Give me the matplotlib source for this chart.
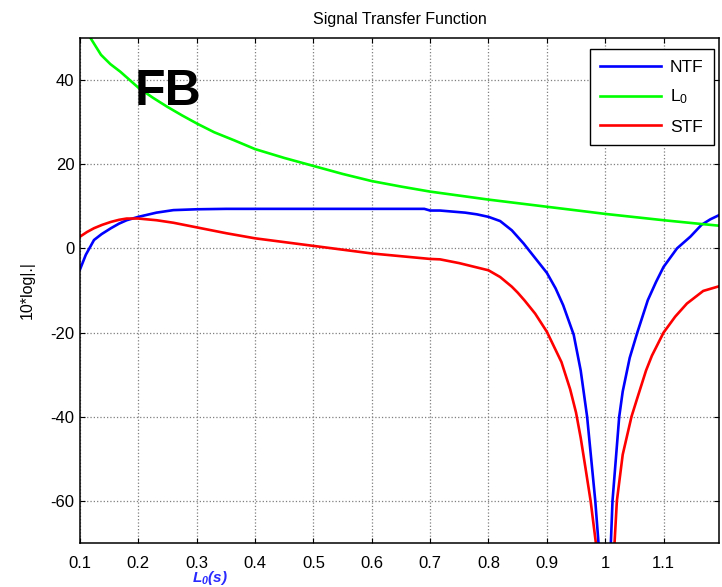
import numpy as np
import matplotlib.pyplot as plt

# values (x axis: normalised frequency)
l0_x = [0.1, 0.118, 0.136, 0.152, 0.169, 0.2, 0.225, 0.249, 0.275, 0.3, 0.33,
        0.364, 0.4, 0.45, 0.5, 0.55, 0.6, 0.65, 0.7, 0.8, 0.9, 0.965, 1.0,
        1.1, 1.165, 1.195]
l0_y = [54, 50, 46, 43.8, 42, 38.2, 35.8, 33.7, 31.6, 29.7, 27.6,
        25.7, 23.6, 21.5, 19.6, 17.7, 16.0, 14.7, 13.5, 11.6, 9.9, 8.8, 8.2,
        6.7, 5.8, 5.4]

ntf_x = [0.1, 0.11, 0.124, 0.137, 0.153, 0.167, 0.18, 0.2, 0.231, 0.26, 0.3,
         0.35, 0.5, 0.6, 0.69, 0.7, 0.717, 0.76, 0.78, 0.8, 0.82, 0.84,
         0.86, 0.88, 0.9, 0.915, 0.928, 0.946, 0.958, 0.969, 0.983,
         0.9885, 1.0, 1.0097, 1.0125, 1.024, 1.03, 1.042, 1.055, 1.073, 1.087,
         1.1, 1.123, 1.146, 1.165, 1.18, 1.195]
ntf_y = [-5.0, -1.5, 2.0, 3.4, 4.8, 5.9, 6.7, 7.5, 8.5, 9.1, 9.3,
         9.4, 9.4, 9.4, 9.4, 9.0, 9.0, 8.5, 8.1, 7.5, 6.5, 4.3,
         1.2, -2.3, -5.8, -9.5, -13.5, -20.5, -29.0, -40.0, -60.0,
         -70.0, -100.0, -70.0, -60.0, -40.0, -34.0, -26.0, -20.0, -12.3, -8.0,
         -4.4, 0.0, 2.8, 5.6, 6.9, 7.9]

stf_x = [0.1, 0.112, 0.124, 0.138, 0.153, 0.167, 0.18, 0.2, 0.231, 0.26, 0.3,
         0.351, 0.4, 0.5, 0.6, 0.7, 0.717, 0.75, 0.8, 0.82, 0.84, 0.85, 0.862,
         0.88, 0.9, 0.925, 0.94, 0.95, 0.958, 0.966, 0.975, 0.984, 1.0, 1.016,
         1.02, 1.03, 1.045, 1.054, 1.07, 1.08, 1.1, 1.12, 1.14, 1.168, 1.195]
stf_y = [2.8, 3.9, 4.8, 5.6, 6.3, 6.8, 7.1, 7.1, 6.7, 6.1, 5.0,
         3.6, 2.4, 0.6, -1.2, -2.5, -2.6, -3.5, -5.2, -6.8, -9.1, -10.5, -12.4,
         -15.5, -19.8, -27.0, -33.5, -39.0, -45.0, -52.0, -60.0, -70.0, -110.0, -70.0,
         -60.0, -49.0, -40.0, -36.0, -29.0, -25.5, -20.0, -16.2, -13.1, -10.1, -9.0]

xticks = [0.1, 0.2, 0.3, 0.4, 0.5, 0.6, 0.7, 0.8, 0.9, 1.0, 1.1]
xtick_labels = ['0.1', '0.2', '0.3', '0.4', '0.5', '0.6', '0.7', '0.8', '0.9', '1', '1.1']
yticks = [-60, -40, -20, 0, 20, 40]

plt.rcParams['font.family'] = ['Liberation Sans', 'DejaVu Sans']
plt.rcParams['axes.unicode_minus'] = False
plt.rcParams['mathtext.fontset'] = 'custom'
plt.rcParams['mathtext.rm'] = 'Liberation Sans'
plt.rcParams['mathtext.bf'] = 'Liberation Sans:italic:bold'

fig = plt.figure(figsize=(7.22, 5.87), dpi=100)
ax = fig.add_axes([80 / 722, 44 / 587, 639 / 722, 505 / 587])

ax.plot(ntf_x, ntf_y, color='#0000ff', lw=1.9, label='NTF')
ax.plot(l0_x, l0_y, color='#00ff00', lw=1.9, label='$\\mathregular{L_0}$')
ax.plot(stf_x, stf_y, color='#ff0000', lw=1.9, label='STF')

ax.set_xlim(0.1, 1.195)
ax.set_ylim(-70, 50)
ax.set_xticks(xticks)
ax.set_xticklabels(xtick_labels)
ax.set_yticks(yticks)
ax.tick_params(direction='in', length=3.5, width=0.8, top=True, right=True,
               labelsize=12)
ax.tick_params(axis='x', pad=9)
ax.tick_params(axis='y', pad=4)
ax.grid(True, color='#7f7f7f', linestyle=':', linewidth=0.9)
for sp in ax.spines.values():
    sp.set_linewidth(1.1)

ax.set_title('Signal Transfer Function', fontsize=11.5, pad=10)
ax.set_ylabel('10*log|.|', fontsize=11.5, labelpad=11)

ax.text(0.194, 34.0, 'FB', fontsize=36, fontweight='bold', ha='left', va='baseline')
fig.text(210 / 722, 1 - 578 / 587, '$\\mathbf{L_0(s)}$', fontsize=11, color='#2a2aff',
         ha='center', va='center')

leg = ax.legend(loc='upper right', bbox_to_anchor=(0.992, 0.978), borderaxespad=0,
                fontsize=12.5, handlelength=3.5, handletextpad=0.5, labelspacing=0.75,
                borderpad=0.6, fancybox=False, framealpha=1)
leg.get_frame().set_edgecolor('black')
leg.get_frame().set_linewidth(1.0)

fig.savefig('out.png', dpi=100)
